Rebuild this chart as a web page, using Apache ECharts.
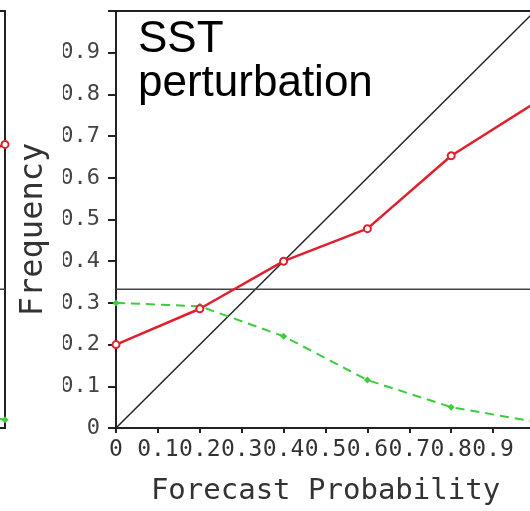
<!DOCTYPE html>
<html>
<head>
<meta charset="utf-8">
<script src="https://cdn.jsdelivr.net/npm/echarts@6/dist/echarts.min.js"></script>
<style>html,body{margin:0;padding:0;background:#fff;}#c{width:530px;height:511px;}</style>
</head>
<body>
<div id="c"></div>
<script>
// Data
const forecastProb = [0, 0.2, 0.4, 0.6, 0.8, 1.0];
const observedFreq = [0.20, 0.286, 0.40, 0.478, 0.653, 0.78];
const forecastFreq = [0.30, 0.292, 0.22, 0.115, 0.05, 0.015];
const climatology = 0.333;
const diagonal = [0, 1];
const xTicks = [0, 0.1, 0.2, 0.3, 0.4, 0.5, 0.6, 0.7, 0.8, 0.9];
const yTicks = [0, 0.1, 0.2, 0.3, 0.4, 0.5, 0.6, 0.7, 0.8, 0.9];
// neighbouring panel (only its right edge is visible)
const leftProb = [0.8, 1.0];
const leftObserved = [0.6, 0.68];
const leftForecast = [0.05, 0.02];

const pairs = (xs, ys) => xs.map((x, i) => [x, ys[i]]);
const fmt = v => {
  const r = Math.round(v * 10) / 10;
  if (r === 0) return '0';
  if (!xTicks.some(t => Math.abs(t - r) < 1e-6)) return '';
  return r.toFixed(1);
};
const fmtY = v => {
  const r = Math.round(v * 10) / 10;
  if (r === 0) return '0';
  if (!yTicks.some(t => Math.abs(t - r) < 1e-6)) return '';
  return r.toFixed(1);
};

const RED = '#e0202c';
const GREEN = '#3ccc3c';
const MONO = '"DejaVu Sans Mono", monospace';

const chart = echarts.init(document.getElementById('c'), null, {renderer: 'canvas'});
chart.setOption({
  animation: false,
  backgroundColor: '#fff',
  grid: [
    {left: 116, top: 11, width: 419, height: 417, show: true, borderColor: '#222', borderWidth: 2, backgroundColor: 'transparent', outerBoundsMode: 'none', containLabel: false},
    {left: -414, top: 11, width: 419, height: 417, show: true, borderColor: '#222', borderWidth: 2, backgroundColor: 'transparent', outerBoundsMode: 'none', containLabel: false}
  ],
  xAxis: [
    {
      type: 'value', gridIndex: 0, min: 0, max: 1, interval: 0.1,
      name: 'Forecast Probability', nameLocation: 'middle', nameGap: 49,
      nameTextStyle: {fontFamily: MONO, fontSize: 29, color: '#333'},
      axisLine: {show: true, onZero: false, lineStyle: {color: '#222', width: 2}},
      axisTick: {show: true, inside: false, length: 5, lineStyle: {color: '#222', width: 2}},
      axisLabel: {formatter: fmt, interval: 0, hideOverlap: false, fontFamily: MONO, fontSize: 23, color: '#333', margin: 11},
      splitLine: {show: false}
    },
    {
      type: 'value', gridIndex: 1, min: 0, max: 1, interval: 0.1,
      axisLine: {show: true, onZero: false, lineStyle: {color: '#222', width: 2}},
      axisTick: {show: false}, axisLabel: {show: false}, splitLine: {show: false}
    }
  ],
  yAxis: [
    {
      type: 'value', gridIndex: 0, min: 0, max: 1, interval: 0.1,
      name: 'Frequency', nameLocation: 'middle', nameGap: 66, nameRotate: 90,
      nameTextStyle: {fontFamily: MONO, fontSize: 32, color: '#333', padding: [0, 20, 0, 0]},
      axisLine: {show: true, onZero: false, lineStyle: {color: '#222', width: 2}},
      axisTick: {show: true, inside: false, length: 8, lineStyle: {color: '#222', width: 2}},
      axisLabel: {formatter: fmtY, fontFamily: MONO, fontSize: 22, color: '#444', margin: 16},
      splitLine: {show: false}
    },
    {
      type: 'value', gridIndex: 1, min: 0, max: 1, interval: 0.1,
      axisLine: {show: false}, axisTick: {show: false}, axisLabel: {show: false}, splitLine: {show: false}
    }
  ],
  graphic: [
    {type: 'rect', left: 52, top: 30, shape: {width: 11, height: 360}, style: {fill: '#fff'}, z: 100, silent: true},
    {
      type: 'text', left: 138, top: 18, z: 50,
      style: {text: 'SST\nperturbation', fontFamily: '"Liberation Sans", Arial, sans-serif', fontSize: 44, lineHeight: 44, fill: '#000'}
    }
  ],
  series: [
    {
      type: 'line', xAxisIndex: 0, yAxisIndex: 0, data: pairs(diagonal, diagonal),
      symbol: 'none', lineStyle: {color: '#222', width: 1.5}, z: 1
    },
    {
      type: 'line', xAxisIndex: 0, yAxisIndex: 0, data: pairs(diagonal, [climatology, climatology]),
      symbol: 'none', lineStyle: {color: '#444', width: 1.5}, z: 1
    },
    {
      type: 'line', xAxisIndex: 0, yAxisIndex: 0, data: pairs(forecastProb, forecastFreq),
      symbol: 'diamond', symbolSize: 7, itemStyle: {color: GREEN},
      lineStyle: {color: GREEN, width: 2, type: [9, 6]}, z: 3
    },
    {
      type: 'line', xAxisIndex: 0, yAxisIndex: 0, data: pairs(forecastProb, observedFreq),
      symbol: 'emptyCircle', symbolSize: 7, itemStyle: {color: RED, borderWidth: 1.5},
      lineStyle: {color: RED, width: 2.5}, z: 4
    },
    {
      type: 'line', xAxisIndex: 1, yAxisIndex: 1, data: pairs(diagonal, [climatology, climatology]),
      symbol: 'none', lineStyle: {color: '#444', width: 1.5}
    },
    {
      type: 'line', xAxisIndex: 1, yAxisIndex: 1, data: pairs(leftProb, leftForecast),
      symbol: 'diamond', symbolSize: 7, itemStyle: {color: GREEN},
      lineStyle: {color: GREEN, width: 2, type: [9, 6]}
    },
    {
      type: 'line', xAxisIndex: 1, yAxisIndex: 1, data: pairs(leftProb, leftObserved),
      symbol: 'emptyCircle', symbolSize: 7, itemStyle: {color: RED, borderWidth: 1.5},
      lineStyle: {color: RED, width: 2.5}
    }
  ]
});
</script>
</body>
</html>
